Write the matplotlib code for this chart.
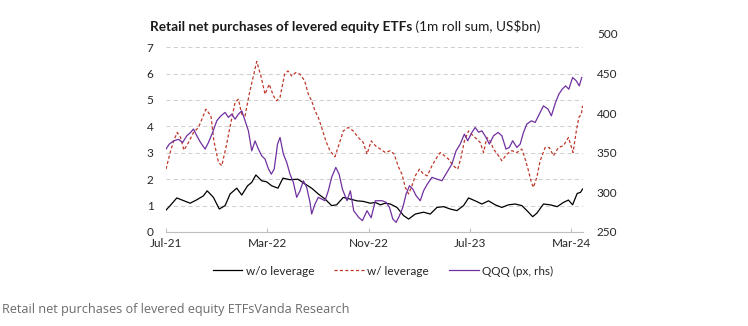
import matplotlib
matplotlib.use("Agg")
import matplotlib.pyplot as plt
import matplotlib.dates as mdates
import pandas as pd
from matplotlib.lines import Line2D

# ---------------- data ----------------
wo_dates = ["2021-07-01","2021-07-11","2021-07-27","2021-08-12","2021-08-28","2021-09-13","2021-09-29","2021-10-08","2021-10-23","2021-11-06",
            "2021-11-20","2021-12-02","2021-12-18","2021-12-30","2022-01-13","2022-01-23","2022-02-02","2022-02-16","2022-02-28","2022-03-12",
            "2022-03-27","2022-04-08","2022-04-25","2022-05-14","2022-05-31","2022-06-16","2022-07-02","2022-07-18","2022-08-03","2022-08-15",
            "2022-08-31","2022-09-16","2022-10-03","2022-10-18","2022-11-04","2022-11-16","2022-11-28","2022-12-10","2022-12-22","2023-01-07",
            "2023-01-23","2023-02-04","2023-02-20","2023-03-12","2023-03-28","2023-04-13","2023-04-29","2023-05-15","2023-05-31","2023-06-16",
            "2023-06-28","2023-07-14","2023-07-30","2023-08-15","2023-08-31","2023-09-16","2023-10-02","2023-10-18","2023-11-03","2023-11-19",
            "2023-11-29","2023-12-09","2023-12-25","2024-01-10","2024-01-27","2024-02-11","2024-02-23","2024-03-04","2024-03-15","2024-03-23",
            "2024-03-28"]
wo_values = [0.83,1.00,1.29,1.19,1.09,1.22,1.37,1.56,1.31,0.87,
             1.00,1.44,1.66,1.40,1.75,1.88,2.16,1.94,1.90,1.75,
             1.66,2.04,1.98,2.00,1.82,1.66,1.44,1.25,1.00,1.03,
             1.31,1.25,1.18,1.16,1.09,1.12,1.03,1.09,1.06,0.93,
             0.62,0.49,0.68,0.75,0.68,0.93,0.96,0.87,0.81,1.00,
             1.29,1.18,1.06,1.18,1.03,0.93,1.03,1.06,1.00,0.75,
             0.58,0.71,1.06,1.03,0.96,1.12,1.21,1.03,1.46,1.50,
             1.63]

w_dates = ["2021-07-01","2021-07-11","2021-07-20","2021-07-28","2021-08-05","2021-08-13","2021-08-24","2021-09-05","2021-09-17","2021-09-27",
           "2021-10-05","2021-10-17","2021-10-24","2021-11-04","2021-11-12","2021-11-22","2021-12-04","2021-12-14","2021-12-22","2021-12-30",
           "2022-01-07","2022-01-17","2022-01-27","2022-02-04","2022-02-14","2022-02-24","2022-03-06","2022-03-16","2022-03-24","2022-04-01",
           "2022-04-12","2022-04-20","2022-04-29","2022-05-09","2022-05-19","2022-05-30","2022-06-08","2022-06-16","2022-06-24","2022-07-02",
           "2022-07-10","2022-07-20","2022-07-30","2022-08-11","2022-08-21","2022-08-31","2022-09-12","2022-09-24","2022-10-06","2022-10-18",
           "2022-10-27","2022-11-06","2022-11-16","2022-11-28","2022-12-10","2022-12-22","2022-12-31","2023-01-11","2023-01-19","2023-01-27",
           "2023-02-04","2023-02-12","2023-02-20","2023-03-02","2023-03-12","2023-03-21","2023-04-01","2023-04-13","2023-04-21","2023-05-01",
           "2023-05-11","2023-05-22","2023-06-02","2023-06-10","2023-06-18","2023-06-28","2023-07-09","2023-07-18","2023-07-26","2023-08-03",
           "2023-08-11","2023-08-19","2023-08-27","2023-09-08","2023-09-16","2023-09-28","2023-10-10","2023-10-22","2023-11-03","2023-11-11",
           "2023-11-19","2023-11-26","2023-12-01","2023-12-09","2023-12-17","2023-12-29","2024-01-08","2024-01-18","2024-01-30","2024-02-11",
           "2024-02-23","2024-03-05","2024-03-13","2024-03-19","2024-03-25","2024-03-28"]
w_values = [2.38,3.01,3.48,3.77,3.58,3.10,3.39,3.77,3.96,4.34,
            4.65,4.40,3.45,2.64,2.51,3.20,4.15,4.91,5.03,4.46,
            4.40,5.22,5.91,6.46,5.91,5.22,5.60,5.16,4.97,5.10,
            5.98,6.10,5.91,6.04,5.98,5.73,5.22,4.97,4.59,4.34,
            3.96,3.45,3.08,2.85,3.33,3.83,3.96,3.83,3.58,3.39,
            2.95,3.45,3.27,3.14,3.01,3.08,2.95,2.45,2.19,1.69,
            1.44,1.75,2.13,2.38,2.19,2.13,2.51,2.83,3.01,2.89,
            2.76,2.51,2.38,2.83,3.45,3.83,3.64,3.52,3.39,3.01,
            3.58,3.45,3.14,2.89,2.70,2.95,3.08,3.01,3.14,2.76,
            2.32,1.88,1.69,2.07,2.70,3.20,3.20,2.89,3.20,3.27,
            3.58,3.01,3.83,4.34,4.46,4.78]

qqq_dates = ["2021-07-01","2021-07-09","2021-07-19","2021-07-31","2021-08-10","2021-08-20","2021-08-29","2021-09-05","2021-09-13","2021-09-22",
             "2021-10-03","2021-10-11","2021-10-21","2021-10-31","2021-11-10","2021-11-20","2021-11-28","2021-12-06","2021-12-14","2021-12-22",
             "2021-12-30","2022-01-07","2022-01-15","2022-01-23","2022-01-31","2022-02-08","2022-02-16","2022-02-24","2022-03-04","2022-03-11",
             "2022-03-18","2022-03-26","2022-04-01","2022-04-09","2022-04-17","2022-04-25","2022-05-03","2022-05-11","2022-05-19","2022-05-27",
             "2022-06-04","2022-06-12","2022-06-16","2022-06-24","2022-07-02","2022-07-10","2022-07-18","2022-07-26","2022-08-03","2022-08-13",
             "2022-08-21","2022-08-29","2022-09-09","2022-09-17","2022-09-25","2022-10-07","2022-10-16","2022-10-27","2022-11-06","2022-11-16",
             "2022-12-02","2022-12-12","2022-12-20","2022-12-28","2023-01-05","2023-01-13","2023-01-21","2023-01-29","2023-02-06","2023-02-14",
             "2023-02-22","2023-03-04","2023-03-12","2023-03-21","2023-04-01","2023-04-13","2023-04-25","2023-05-07","2023-05-19","2023-05-29",
             "2023-06-08","2023-06-18","2023-06-26","2023-07-06","2023-07-14","2023-07-22","2023-07-30","2023-08-09","2023-08-17","2023-08-27",
             "2023-09-07","2023-09-16","2023-09-26","2023-10-04","2023-10-12","2023-10-22","2023-10-30","2023-11-07","2023-11-15","2023-11-26",
             "2023-12-05","2023-12-15","2023-12-25","2024-01-05","2024-01-13","2024-01-23","2024-01-31","2024-02-08","2024-02-16","2024-02-24",
             "2024-03-04","2024-03-13","2024-03-20","2024-03-26"]
qqq_values = [354.7,361,365,367,363,371.5,375.7,380,371.5,363,
              354.7,363,375.7,390.4,396.7,401,394.7,398.8,392.5,398.8,
              403,390.4,377.8,352.5,365,354.7,346.2,342,330,323,
              329.5,361,369.4,348.4,338,323,312.7,293.8,302,314.7,
              306.4,287.5,272.7,285.3,293.8,291.6,289.5,302,319,331.6,
              323,304,289.5,302,276.9,268.5,264.3,276.9,268,289.5,
              289.5,287.5,281.1,266.4,262.2,270.6,281.1,298,308.4,304.2,
              295.8,289.5,302.1,310.5,319,316.8,314.7,325.3,335.8,352.5,
              361,373.6,365.2,375.7,382,376,377.8,369.4,361,371.5,
              375.7,371.5,354.7,356.8,365.2,356.8,361,375.7,386.2,390.4,
              388.3,398.8,409.3,405.1,396.7,413.6,424,430.3,434.5,430.3,
              445.1,440.8,434.5,445.1]

series_labels = ["w/o leverage", "w/ leverage", "QQQ (px, rhs)"]
tick_dates = ["2021-07-01", "2022-03-01", "2022-11-01", "2023-07-01", "2024-03-01"]
left_ticks = [0, 1, 2, 3, 4, 5, 6, 7]
right_ticks = [250, 300, 350, 400, 450, 500]
title_bold = "Retail net purchases of levered equity ETFs"
title_rest = " (1m roll sum, US$bn)"
caption = "Retail net purchases of levered equity ETFsVanda Research"

# ---------------- style ----------------
FONT = "Lato"
plt.rcParams["font.family"] = [FONT, "DejaVu Sans"]
C_BLACK = "#000000"
C_RED = "#C0392B"
C_PURPLE = "#7030A0"
C_GRID = "#D0D0D0"
C_TEXT = "#262626"
RED_DASH = (0, (2.5, 1.8))

fig = plt.figure(figsize=(7.48, 3.26), dpi=100)
ax = fig.add_axes([166/748, 1-232/326, (583-166)/748, (232-34)/326])
ax2 = ax.twinx()

ax.plot(pd.to_datetime(wo_dates), wo_values, color=C_BLACK, lw=0.9, label=series_labels[0])
ax.plot(pd.to_datetime(w_dates), w_values, color=C_RED, lw=0.9, ls=RED_DASH, label=series_labels[1])
ax2.plot(pd.to_datetime(qqq_dates), qqq_values, color=C_PURPLE, lw=0.9, label=series_labels[2])

ax.set_xlim(pd.Timestamp("2021-07-01"), pd.Timestamp("2024-03-29"))
ax.set_ylim(0, 7.5)
ax2.set_ylim(250, 500)

ax.set_yticks(left_ticks)
ax2.set_yticks(right_ticks)
ax.set_xticks(pd.to_datetime(tick_dates))
ax.xaxis.set_major_formatter(mdates.DateFormatter("%b-%y"))

for a in (ax, ax2):
    for s in a.spines.values():
        s.set_visible(False)
ax.spines["bottom"].set_visible(True)
ax.spines["bottom"].set_color("#BFBFBF")
ax.spines["bottom"].set_linewidth(0.8)

ax.grid(axis="y", color=C_GRID, lw=0.75, ls=(0, (4, 3)))
ax.set_axisbelow(True)
ax.tick_params(axis="x", direction="in", length=3, width=0.8, color="#BFBFBF",
               labelsize=8.5, labelcolor=C_TEXT, pad=4)
ax.tick_params(axis="y", length=0, labelsize=8.5, labelcolor=C_TEXT, pad=9)
ax2.tick_params(axis="y", length=0, labelsize=8.5, labelcolor=C_TEXT, pad=10)

# title in two weights
t1 = fig.text(150/748, 1-31/326, title_bold, fontsize=9.8, fontweight="bold", color="#1a1a1a",
              ha="left", va="baseline")
fig.canvas.draw()
bb = t1.get_window_extent()
fig.text(bb.x1/fig.bbox.width, 1-31/326, title_rest, fontsize=9.8, color="#1a1a1a",
         ha="left", va="baseline")

handles = [Line2D([], [], color=C_BLACK, lw=0.9),
           Line2D([], [], color=C_RED, lw=0.9, ls=RED_DASH),
           Line2D([], [], color=C_PURPLE, lw=0.9)]
fig.legend(handles, series_labels, loc="center", bbox_to_anchor=(383/748, 1-271/326), ncol=3,
           frameon=False, fontsize=8.5, handlelength=2.5, handletextpad=0.3, columnspacing=1.7,
           labelcolor=C_TEXT)

fig.text(2/748, 1-309/326, caption, fontsize=9.1, color="#6b6b6b", family=["Open Sans", "DejaVu Sans"],
         ha="left", va="center")

fig.savefig("out.png", dpi=100, facecolor="white")
